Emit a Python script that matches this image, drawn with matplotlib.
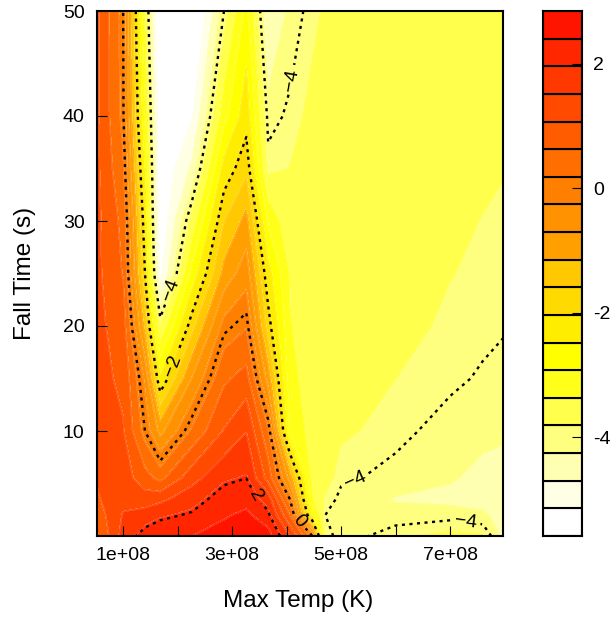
import numpy as np
import matplotlib
matplotlib.use('Agg')
import matplotlib.pyplot as plt
from matplotlib.colors import BoundaryNorm, ListedColormap

plt.rcParams['font.family'] = ['Liberation Sans', 'DejaVu Sans']

# grid of the surface
max_temp = [0.5e8, 1.0e8, 1.4e8, 1.68e8, 2.26e8, 2.85e8, 3.26e8, 3.66e8, 4.06e8, 4.47e8, 4.71e8, 5e8, 6e8, 7e8, 7.6e8, 8e8]
fall_time = [0, 2, 3.5, 5.5, 10, 15, 20, 25, 30, 35, 40, 50]

# one list per temperature, values follow fall_time
col_05 = [0.5, 0.8, 1.0, 1.1, 1.2, 1.2, 1.2, 1.2, 1.2, 1.2, 1.2, 1.2]
col_10 = [1.7, 1.55, 1.4, 1.3, 1.1, 1.0, 0.85, 0.6, 0.5, 0.25, 0.05, 0.0]
col_14 = [2.2, 1.7, 1.3, 0.8, 0.0, -0.35, -1.3, -2.0, -2.25, -2.6, -3.0, -3.45]
col_17 = [2.3, 1.9, 1.4, 0.5, -0.85, -2.4, -3.75, -5.3, -5.6, -5.6, -5.6, -5.9]
col_23 = [2.4, 2.05, 1.8, 1.35, 0.25, -0.7, -1.75, -2.8, -3.65, -4.6, -5.2, -6.0]
col_29 = [2.6, 2.35, 2.2, 1.9, 1.1, 0.55, -0.1, -1.0, -1.6, -2.3, -3.1, -4.0]
col_33 = [2.7, 2.5, 2.25, 2.0, 1.5, 0.8, 0.15, -0.45, -1.0, -1.7, -2.2, -2.8]
col_37 = [2.6, 2.1, 1.75, 0.9, 0.25, -0.9, -1.8, -2.3, -3.0, -3.9, -4.1, -4.7]
col_41 = [1.5, 0.6, 0.0, -0.9, -3.0, -3.25, -3.35, -3.4, -3.7, -3.8, -3.95, -4.15]
col_45 = [0.0, -2.7, -3.3, -3.5, -3.55, -3.55, -3.55, -3.55, -3.55, -3.6, -3.7, -3.9]
col_47 = [-3.85, -4.0, -3.85, -3.65, -3.6, -3.55, -3.55, -3.5, -3.5, -3.55, -3.6, -3.75]
col_50 = [-4.15, -4.15, -4.08, -3.95, -3.75, -3.6, -3.55, -3.5, -3.5, -3.5, -3.55, -3.55]
col_60 = [-3.85, -4.15, -4.28, -4.08, -3.93, -3.81, -3.7, -3.65, -3.6, -3.6, -3.55, -3.55]
col_70 = [-3.7, -4.1, -4.35, -4.22, -4.1, -3.95, -3.87, -3.8, -3.75, -3.7, -3.65, -3.6]
col_76 = [-3.75, -4.2, -4.38, -4.35, -4.17, -4.03, -3.94, -3.87, -3.82, -3.76, -3.73, -3.7]
col_80 = [-4.4, -4.4, -4.4, -4.4, -4.2, -4.08, -3.98, -3.92, -3.86, -3.8, -3.78, -3.75]

band_colors = ['#ffffff', '#ffffe5', '#ffffb2', '#ffff7f', '#ffff4c', '#ffff19', '#ffff00',
               '#ffed00', '#ffda00', '#ffc800', '#ffa000', '#ff9200', '#ff8000', '#ff6e00',
               '#ff5c00', '#ff4a00', '#ff3800', '#ff2600', '#ff1400']
line_levels = [-4, -2, 0, 2]
line_names = {-4: '\u22124', -2: '\u22122', 0: '0', 2: '2'}
cbar_ticks = [2, 0, -2, -4]
cbar_labels = ['2', '0', '-2', '-4']
x_ticks = [1e8, 2e8, 3e8, 4e8, 5e8, 6e8, 7e8]
x_labels = ['1e+08', '', '3e+08', '', '5e+08', '', '7e+08']
y_ticks = [10, 20, 30, 40, 50]

levels = np.linspace(-5.59, 2.85, 20)
W, H = 610.0, 619.0

z = np.column_stack([col_05, col_10, col_14, col_17, col_23, col_29, col_33, col_37,
                     col_41, col_45, col_47, col_50, col_60, col_70, col_76, col_80])

fig = plt.figure(figsize=(6.10, 6.19), dpi=100)
ax = fig.add_axes([97 / W, 1 - 536 / H, 406 / W, 525 / H])

cmap = ListedColormap(band_colors)
norm = BoundaryNorm(levels, cmap.N)
cf = ax.contourf(max_temp, fall_time, z, levels=levels, cmap=cmap, norm=norm)
# the bands have faint light seams between them
cf.set_edgecolor((1, 1, 1, 0.12))
cf.set_linewidth(0.6)
cs = ax.contour(max_temp, fall_time, z, levels=line_levels, colors='black',
                linewidths=1.7, linestyles=[(0, (1.3, 1.9))])
ax.clabel(cs, fmt=line_names, fontsize=14, inline=True, inline_spacing=4,
          manual=[(4.14e8, 43.4), (1.86e8, 23.4), (1.95e8, 16.1), (3.46e8, 3.9),
                  (4.21e8, 1.3), (5.26e8, 5.3), (7.27e8, 1.0)])

ax.set_xlim(0.52e8, 7.97e8)
ax.set_ylim(0, 50)
ax.set_xticks(x_ticks)
ax.set_xticklabels(x_labels)
ax.set_yticks(y_ticks)
ax.tick_params(direction='in', length=7, width=0.8, labelsize=14)
ax.tick_params(axis='x', pad=8)
ax.tick_params(axis='y', pad=9)
for s in ax.spines.values():
    s.set_linewidth(1.5)
fig.text(298 / W, 1 - 601 / H, 'Max Temp (K)', fontsize=17.5, ha='center', va='center')
fig.text(25 / W, 1 - 273 / H, 'Fall Time (s)', fontsize=17.5, ha='center', va='center', rotation=90)

# colour key
cax = fig.add_axes([543 / W, 1 - 536 / H, 39 / W, 525 / H])
cax.barh(levels[:-1], np.ones(len(band_colors)), height=np.diff(levels), align='edge',
         color=band_colors, edgecolor='black', linewidth=1.5)
cax.set_xlim(0, 1)
cax.set_ylim(levels[0], levels[-1])
cax.set_xticks([])
cax.yaxis.tick_right()
cax.set_yticks(cbar_ticks)
cax.set_yticklabels(cbar_labels)
cax.tick_params(direction='in', length=7, width=0.8, labelsize=14, pad=8)
for s in cax.spines.values():
    s.set_linewidth(1.5)

fig.savefig('out.png', dpi=100)
